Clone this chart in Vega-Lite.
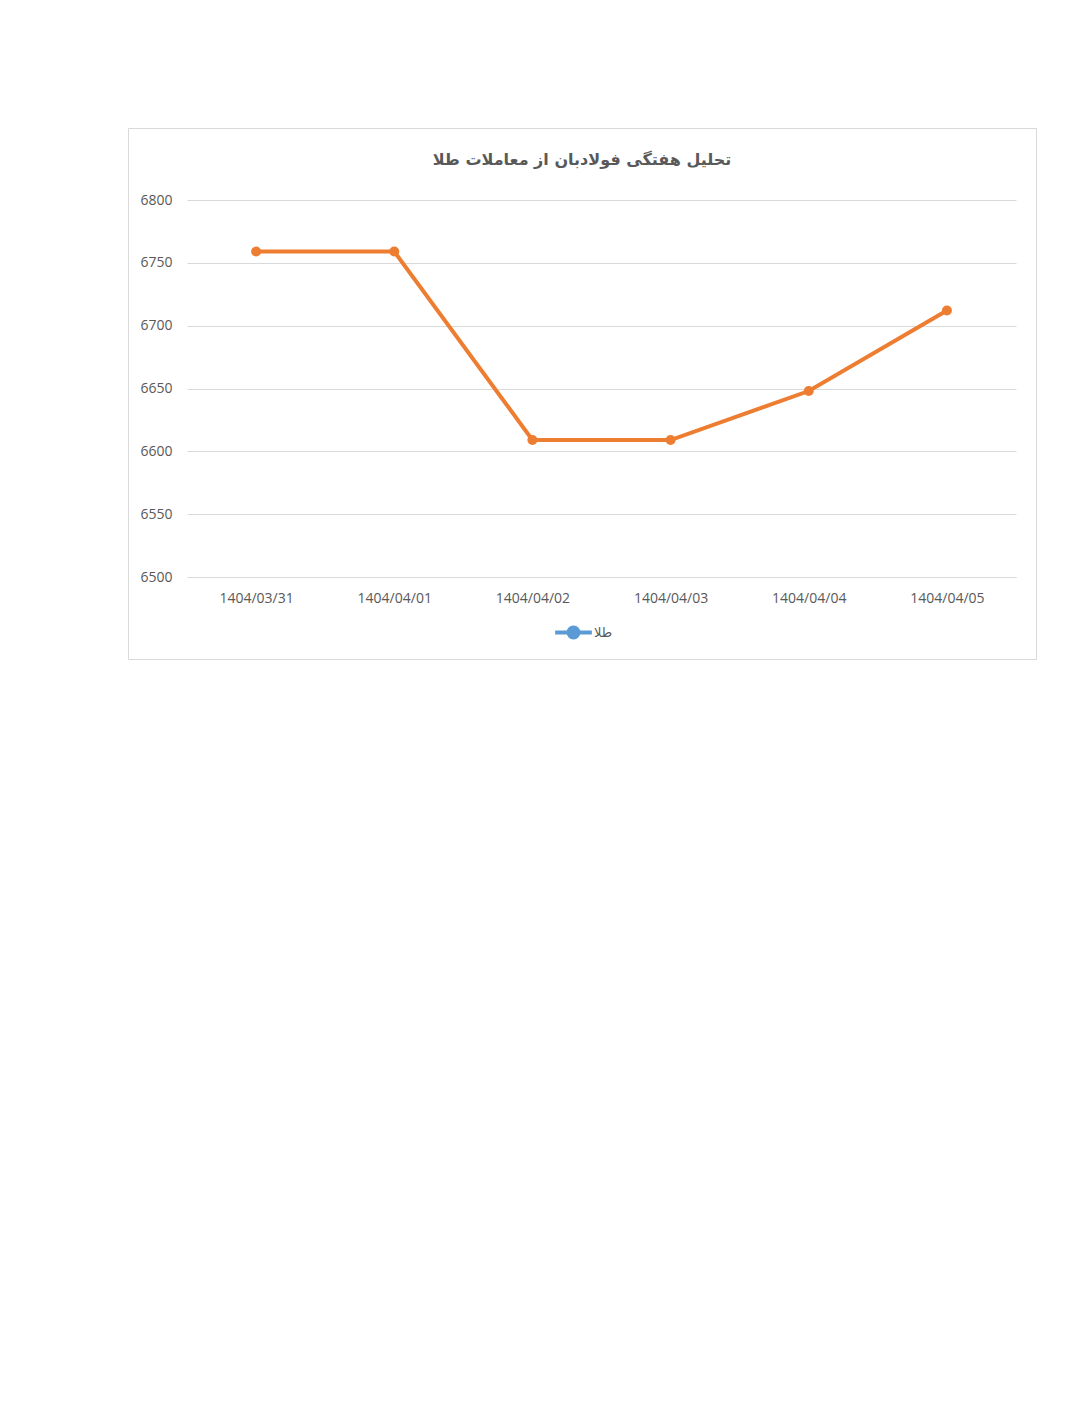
{
  "$schema": "https://vega.github.io/schema/vega-lite/v6.json",
  "autosize": "none",
  "padding": {"left": 128, "top": 128, "right": 52, "bottom": 749},
  "width": 908,
  "height": 531,
  "background": "#ffffff",
  "title": {
    "text": "تحلیل هفتگی فولادبان از معاملات طلا",
    "font": "DejaVu Sans",
    "fontSize": 16,
    "fontWeight": "bold",
    "color": "#595959",
    "anchor": "middle",
    "frame": "group",
    "offset": -40
  },
  "config": {
    "view": {"stroke": "#d9d9d9", "strokeWidth": 1},
    "axis": {
      "labelFont": "Open Sans",
      "labelFontSize": 14,
      "labelColor": "#595959",
      "gridColor": "#d9d9d9",
      "gridWidth": 1,
      "ticks": false,
      "title": null
    }
  },
  "data": {
    "values": [
      {"date": "1404/03/31", "value": 6759, "series": "طلا"},
      {"date": "1404/04/01", "value": 6759, "series": "طلا"},
      {"date": "1404/04/02", "value": 6609, "series": "طلا"},
      {"date": "1404/04/03", "value": 6609, "series": "طلا"},
      {"date": "1404/04/04", "value": 6648, "series": "طلا"},
      {"date": "1404/04/05", "value": 6712, "series": "طلا"}
    ]
  },
  "encoding": {
    "x": {
      "field": "date",
      "type": "ordinal",
      "sort": null,
      "scale": {"type": "point", "padding": 0.5, "range": [59, 888]},
      "axis": {
        "labelAngle": 0,
        "labelPadding": 14,
        "offset": -82,
        "domain": true,
        "domainColor": "#d9d9d9",
        "domainWidth": 1,
        "grid": false
      }
    },
    "y": {
      "field": "value",
      "type": "quantitative",
      "scale": {"domain": [6500, 6800], "range": [449, 72], "nice": false, "zero": false},
      "axis": {
        "values": [6500, 6550, 6600, 6650, 6700, 6750, 6800],
        "format": "d",
        "offset": -59,
        "domain": false,
        "labelPadding": 15,
        "grid": true
      }
    }
  },
  "layer": [
    {
      "mark": {"type": "line", "strokeWidth": 1},
      "encoding": {
        "color": {
          "field": "series",
          "type": "nominal",
          "scale": {"domain": ["طلا"], "range": ["#5b9bd5"]},
          "legend": {
            "title": null,
            "orient": "none",
            "legendX": 431,
            "legendY": 490,
            "symbolType": "M -1.5 0 L 1.5 0 M 0.4 0 A 0.4 0.4 0 1 1 -0.4 0 A 0.4 0.4 0 1 1 0.4 0",
            "symbolSize": 600,
            "symbolStrokeWidth": 4,
            "symbolFillColor": "#5b9bd5",
            "symbolStrokeColor": "#5b9bd5",
            "labelFont": "DejaVu Sans",
            "labelFontSize": 13,
            "labelColor": "#595959",
            "labelOffset": 6
          }
        }
      }
    },
    {
      "mark": {
        "type": "line",
        "strokeWidth": 4,
        "color": "#ed7d31",
        "point": {"filled": true, "size": 100, "color": "#ed7d31"}
      },
      "encoding": {}
    }
  ]
}
